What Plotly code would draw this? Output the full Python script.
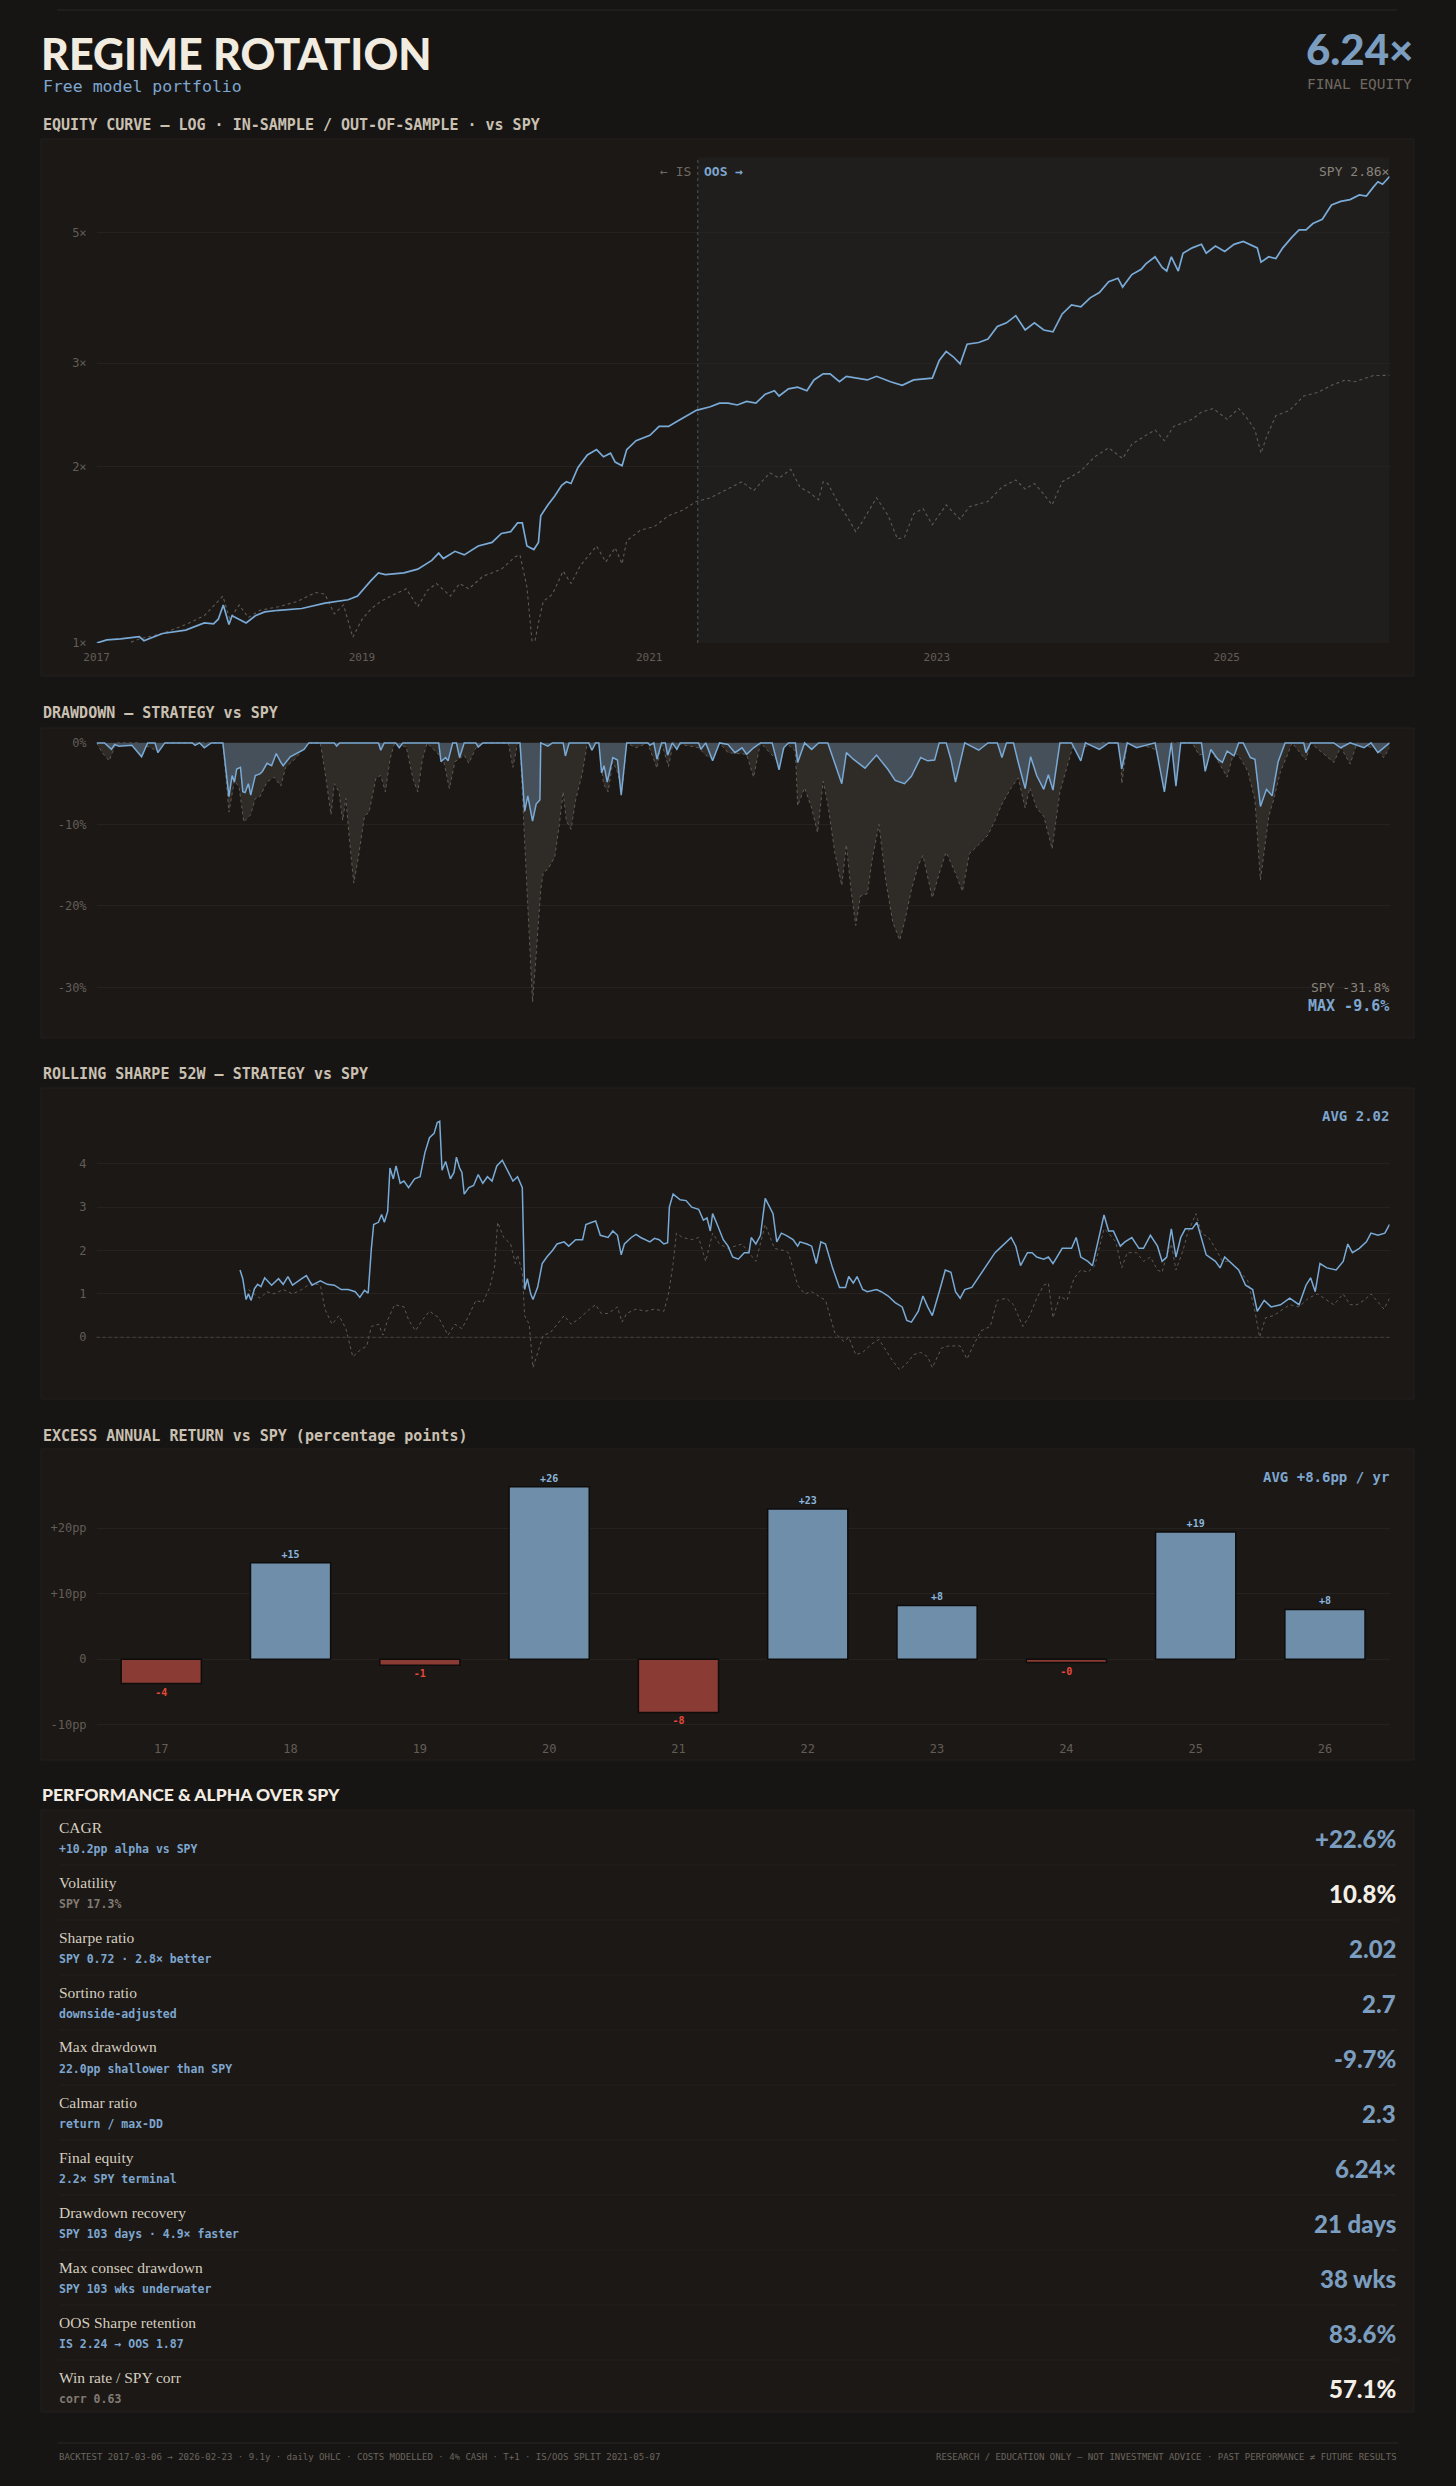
import plotly.graph_objects as go

W, H = 1456, 2486
MONO = "DejaVu Sans Mono"
SANS = "Lato"
SERIF = "Liberation Serif"

BLUE = "#7aaad6"
STEEL = "#7b9dbf"
GREY_DOT = "#605a53"
TICK = "#635d56"

# ---------------- equity curve (growth of 1, log scale), decimal years ----------------
EQ_T = [2017.175, 2017.246, 2017.342, 2017.471, 2017.503, 2017.632, 2017.793, 2017.922, 2017.986, 2018.019,
        2018.054, 2018.093, 2018.115, 2018.164, 2018.212, 2018.276, 2018.341, 2018.437, 2018.598, 2018.759,
        2018.920, 2018.985, 2019.017, 2019.081, 2019.130, 2019.178, 2019.307, 2019.403, 2019.500, 2019.548,
        2019.580, 2019.661, 2019.725, 2019.822, 2019.918, 2019.983, 2020.047, 2020.095, 2020.128, 2020.160,
        2020.208, 2020.240, 2020.256, 2020.305, 2020.353, 2020.401, 2020.434, 2020.466, 2020.514, 2020.579,
        2020.643, 2020.691, 2020.740, 2020.772, 2020.820, 2020.852, 2020.917, 2021.013, 2021.077, 2021.142,
        2021.206, 2021.271, 2021.335, 2021.432, 2021.496, 2021.555, 2021.619, 2021.684, 2021.748, 2021.813,
        2021.877, 2021.909, 2021.974, 2022.038, 2022.102, 2022.151, 2022.215, 2022.263, 2022.328, 2022.376,
        2022.521, 2022.585, 2022.682, 2022.763, 2022.843, 2022.972, 2023.020, 2023.068, 2023.117, 2023.165,
        2023.213, 2023.294, 2023.358, 2023.423, 2023.487, 2023.551, 2023.616, 2023.680, 2023.745, 2023.809,
        2023.873, 2023.938, 2024.002, 2024.067, 2024.131, 2024.195, 2024.260, 2024.292, 2024.356, 2024.421,
        2024.453, 2024.517, 2024.566, 2024.598, 2024.630, 2024.678, 2024.711, 2024.775, 2024.839, 2024.872,
        2024.936, 2025.000, 2025.065, 2025.129, 2025.194, 2025.226, 2025.252, 2025.306, 2025.355, 2025.403,
        2025.467, 2025.516, 2025.564, 2025.612, 2025.677, 2025.741, 2025.805, 2025.870, 2025.934, 2025.983,
        2026.031, 2026.063, 2026.095, 2026.144]
EQ_STRAT = [1.000, 1.012, 1.016, 1.025, 1.009, 1.038, 1.052, 1.082, 1.078, 1.098,
            1.161, 1.075, 1.113, 1.098, 1.082, 1.113, 1.130, 1.137, 1.145, 1.169,
            1.185, 1.202, 1.228, 1.280, 1.317, 1.308, 1.317, 1.336, 1.383, 1.423,
            1.393, 1.433, 1.413, 1.463, 1.484, 1.537, 1.548, 1.602, 1.602, 1.463,
            1.443, 1.484, 1.648, 1.719, 1.780, 1.857, 1.883, 1.870, 1.991, 2.092,
            2.136, 2.077, 2.106, 2.034, 2.005, 2.136, 2.212, 2.259, 2.340, 2.340,
            2.389, 2.440, 2.492, 2.527, 2.563, 2.563, 2.545, 2.581, 2.563, 2.655,
            2.692, 2.636, 2.711, 2.730, 2.692, 2.808, 2.876, 2.876, 2.788, 2.848,
            2.808, 2.848, 2.788, 2.749, 2.808, 2.828, 3.032, 3.141, 3.075, 2.990,
            3.230, 3.252, 3.298, 3.464, 3.513, 3.613, 3.416, 3.513, 3.416, 3.392,
            3.638, 3.768, 3.741, 3.875, 3.957, 4.128, 4.186, 4.042, 4.246, 4.335,
            4.427, 4.553, 4.366, 4.305, 4.553, 4.305, 4.617, 4.715, 4.781, 4.617,
            4.748, 4.650, 4.781, 4.835, 4.748, 4.715, 4.459, 4.553, 4.522, 4.715,
            4.917, 5.058, 5.058, 5.187, 5.275, 5.579, 5.658, 5.698, 5.803, 5.779,
            5.984, 6.111, 6.052, 6.240]

EQ_SPY_T = [2017.175, 2017.246, 2017.342, 2017.471, 2017.632, 2017.793, 2017.922, 2018.051, 2018.099, 2018.164,
            2018.228, 2018.308, 2018.437, 2018.566, 2018.695, 2018.759, 2018.824, 2018.888, 2018.952, 2019.017,
            2019.081, 2019.146, 2019.242, 2019.323, 2019.403, 2019.468, 2019.532, 2019.629, 2019.693, 2019.757,
            2019.854, 2019.983, 2020.079, 2020.112, 2020.160, 2020.202, 2020.240, 2020.273, 2020.337, 2020.411,
            2020.466, 2020.530, 2020.643, 2020.707, 2020.772, 2020.820, 2020.852, 2020.949, 2021.045, 2021.142,
            2021.239, 2021.335, 2021.432, 2021.554, 2021.652, 2021.732, 2021.845, 2021.909, 2021.990, 2022.054,
            2022.119, 2022.183, 2022.215, 2022.247, 2022.328, 2022.392, 2022.441, 2022.489, 2022.585, 2022.666,
            2022.730, 2022.779, 2022.843, 2022.907, 2022.972, 2023.068, 2023.165, 2023.229, 2023.358, 2023.455,
            2023.551, 2023.616, 2023.680, 2023.745, 2023.803, 2023.873, 2024.002, 2024.099, 2024.195, 2024.292,
            2024.356, 2024.453, 2024.517, 2024.582, 2024.646, 2024.775, 2024.839, 2024.920, 2025.017, 2025.097,
            2025.161, 2025.210, 2025.252, 2025.290, 2025.355, 2025.451, 2025.548, 2025.644, 2025.741, 2025.838,
            2025.902, 2026.031, 2026.144]
EQ_SPY = [1.000, 0.984, 0.988, 1.016, 1.038, 1.075, 1.113, 1.202, 1.098, 1.161,
          1.105, 1.137, 1.153, 1.177, 1.219, 1.211, 1.121, 1.161, 1.023, 1.098,
          1.145, 1.177, 1.211, 1.237, 1.153, 1.228, 1.263, 1.202, 1.263, 1.237,
          1.299, 1.336, 1.403, 1.413, 1.245, 0.968, 1.082, 1.177, 1.211, 1.326,
          1.263, 1.354, 1.463, 1.374, 1.453, 1.364, 1.494, 1.558, 1.580, 1.648,
          1.683, 1.743, 1.768, 1.830, 1.883, 1.817, 1.950, 1.910, 1.977, 1.844,
          1.805, 1.755, 1.883, 1.870, 1.719, 1.625, 1.548, 1.613, 1.768, 1.648,
          1.504, 1.515, 1.660, 1.695, 1.591, 1.719, 1.625, 1.707, 1.743, 1.844,
          1.896, 1.830, 1.870, 1.793, 1.719, 1.883, 1.964, 2.077, 2.151, 2.063,
          2.182, 2.259, 2.307, 2.212, 2.340, 2.406, 2.475, 2.510, 2.406, 2.510,
          2.406, 2.307, 2.106, 2.244, 2.440, 2.492, 2.636, 2.673, 2.749, 2.808,
          2.788, 2.856, 2.860]

OOS_SPLIT = 2021.345
YEAR_TICKS = [2017.175, 2019.016, 2021.008, 2023.003, 2025.014]
YEAR_LABELS = ["2017", "2019", "2021", "2023", "2025"]

# ---------------- drawdown (%) ----------------
DD_STRAT_T = [2017.175, 2017.230, 2017.278, 2017.300, 2017.330, 2017.420, 2017.487, 2017.529, 2017.580, 2017.600,
              2017.648, 2017.840, 2017.858, 2017.890, 2017.922, 2017.970, 2018.051, 2018.093, 2018.115, 2018.131,
              2018.147, 2018.173, 2018.189, 2018.205, 2018.228, 2018.244, 2018.276, 2018.308, 2018.325, 2018.357,
              2018.389, 2018.421, 2018.453, 2018.469, 2018.518, 2018.566, 2018.614, 2018.647, 2018.824, 2018.840,
              2018.860, 2019.130, 2019.146, 2019.170, 2019.250, 2019.274, 2019.300, 2019.548, 2019.564, 2019.596,
              2019.613, 2019.645, 2019.671, 2019.693, 2019.725, 2019.806, 2019.822, 2019.854, 2020.112, 2020.144,
              2020.166, 2020.199, 2020.224, 2020.250, 2020.256, 2020.305, 2020.337, 2020.411, 2020.427, 2020.453,
              2020.588, 2020.611, 2020.637, 2020.659, 2020.678, 2020.695, 2020.717, 2020.756, 2020.788, 2020.814,
              2020.852, 2021.000, 2021.013, 2021.040, 2021.062, 2021.094, 2021.120, 2021.136, 2021.168, 2021.200,
              2021.223, 2021.351, 2021.367, 2021.400, 2021.448, 2021.496, 2021.555, 2021.603, 2021.652, 2021.684,
              2021.732, 2021.780, 2021.861, 2021.909, 2021.941, 2021.974, 2022.022, 2022.038, 2022.086, 2022.135,
              2022.183, 2022.247, 2022.312, 2022.344, 2022.376, 2022.424, 2022.505, 2022.585, 2022.666, 2022.714,
              2022.779, 2022.827, 2022.891, 2022.940, 2022.988, 2023.020, 2023.068, 2023.101, 2023.133, 2023.165,
              2023.197, 2023.294, 2023.358, 2023.423, 2023.455, 2023.487, 2023.535, 2023.568, 2023.616, 2023.654,
              2023.696, 2023.745, 2023.777, 2023.809, 2023.857, 2023.938, 2024.002, 2024.034, 2024.131, 2024.195,
              2024.260, 2024.286, 2024.324, 2024.389, 2024.517, 2024.582, 2024.630, 2024.662, 2024.695, 2024.839,
              2024.865, 2024.904, 2024.952, 2024.984, 2025.017, 2025.065, 2025.097, 2025.129, 2025.178, 2025.210,
              2025.248, 2025.290, 2025.329, 2025.371, 2025.419, 2025.548, 2025.564, 2025.596, 2025.757, 2025.805,
              2025.870, 2025.966, 2026.015, 2026.063, 2026.111, 2026.144]
DD_STRAT = [0, 0, -0.8, -0.2, -0.4, -0.3, -1.7, 0, 0, -1.2,
            0, 0, -0.3, 0, -0.6, 0, 0, -6.6, -4.0, -4.8,
            -3.2, -3.0, -6.0, -6.1, -5.0, -6.4, -4.0, -3.8, -3.5, -2.5,
            -2.8, -1.3, -2.4, -2.8, -1.7, -1.2, -0.8, 0, 0, -0.4,
            0, 0, -0.9, 0, 0, -0.6, 0, 0, -2.3, -1.8,
            -2.2, 0, 0, -1.8, 0, 0, -0.5, 0, 0, -8.4,
            -6.5, -9.6, -7.5, -7.0, 0, -0.4, 0, 0, -1.6, 0,
            0, -0.9, 0, 0, -3.7, -2.8, -4.8, -1.8, -2.1, -6.4,
            0, 0, -0.3, 0, -2.0, 0, 0, -1.5, 0, -0.8,
            0, 0, -0.8, 0, -2.2, 0, -0.2, -1.2, -0.6, -1.4,
            -0.6, 0, 0, -3.3, -0.6, 0, 0, -2.4, 0, -0.8,
            0, 0, -3.5, -5.0, -1.2, -2.0, -3.1, -1.5, -3.3, -4.6,
            -5.0, -4.1, -1.8, -2.2, -2.1, 0, 0, -2.0, -4.8, -2.5,
            0, -0.9, 0, 0, -1.8, 0, 0, -2.4, -5.6, -1.7,
            -4.0, -5.7, -3.9, -5.8, 0, 0, -2.2, 0, -0.8, 0,
            0, -3.2, 0, -0.6, 0, -6.0, 0, -5.3, 0, 0,
            -3.5, -0.8, -2.0, -2.4, -1.0, -1.6, 0, 0, -1.8, -2.0,
            -7.8, -5.7, -6.5, -2.3, 0, 0, -1.2, 0, 0, -0.6,
            0, -0.6, 0, -1.2, -0.5, 0]

DD_SPY_T = [2017.175, 2017.214, 2017.262, 2017.310, 2017.471, 2017.600, 2017.648, 2018.051, 2018.093, 2018.131,
            2018.164, 2018.196, 2018.244, 2018.276, 2018.308, 2018.357, 2018.405, 2018.453, 2018.486, 2018.550,
            2018.647, 2018.727, 2018.759, 2018.801, 2018.824, 2018.856, 2018.882, 2018.904, 2018.927, 2018.959,
            2018.991, 2019.033, 2019.065, 2019.113, 2019.146, 2019.178, 2019.210, 2019.242, 2019.323, 2019.371,
            2019.403, 2019.435, 2019.468, 2019.580, 2019.622, 2019.661, 2019.725, 2019.757, 2019.806, 2019.854,
            2020.031, 2020.063, 2020.095, 2020.112, 2020.144, 2020.176, 2020.199, 2020.224, 2020.256, 2020.273,
            2020.305, 2020.353, 2020.385, 2020.411, 2020.434, 2020.466, 2020.498, 2020.546, 2020.579, 2020.659,
            2020.691, 2020.723, 2020.756, 2020.788, 2020.820, 2020.852, 2020.917, 2020.997, 2021.062, 2021.094,
            2021.142, 2021.174, 2021.351, 2021.400, 2021.448, 2021.496, 2021.555, 2021.684, 2021.732, 2021.780,
            2021.909, 2021.958, 2022.022, 2022.038, 2022.086, 2022.135, 2022.176, 2022.215, 2022.247, 2022.296,
            2022.344, 2022.376, 2022.408, 2022.441, 2022.473, 2022.521, 2022.553, 2022.602, 2022.650, 2022.698,
            2022.746, 2022.779, 2022.827, 2022.875, 2022.907, 2022.972, 2023.020, 2023.068, 2023.133, 2023.181,
            2023.229, 2023.294, 2023.358, 2023.407, 2023.455, 2023.519, 2023.568, 2023.616, 2023.648, 2023.696,
            2023.745, 2023.803, 2023.857, 2023.906, 2023.954, 2024.002, 2024.131, 2024.276, 2024.286, 2024.324,
            2024.469, 2024.550, 2024.582, 2024.630, 2024.775, 2024.823, 2024.904, 2024.952, 2025.017, 2025.065,
            2025.113, 2025.161, 2025.210, 2025.248, 2025.274, 2025.306, 2025.339, 2025.387, 2025.435, 2025.467,
            2025.564, 2025.596, 2025.757, 2025.805, 2025.870, 2025.918, 2026.063, 2026.102, 2026.144]
DD_SPY = [0, -1.2, -2.2, 0, 0, -1.0, 0, 0, -8.5, -4.6,
          -5.5, -9.7, -8.8, -6.8, -6.6, -4.8, -4.2, -5.3, -3.0, -2.0,
          0, 0, -3.5, -8.8, -5.0, -6.0, -9.5, -6.8, -11.5, -17.2,
          -14.0, -9.0, -8.5, -4.3, -4.0, -6.0, -2.0, 0, -0.5, -4.5,
          -6.0, -2.0, 0, -2.0, -5.6, -2.3, -1.5, -2.5, -0.6, 0,
          0, -3.0, 0, 0, -12.0, -23.0, -31.8, -26.0, -18.0, -15.9,
          -15.5, -14.0, -10.0, -6.0, -9.6, -10.6, -7.0, -3.6, 0, 0,
          -5.0, -6.0, -2.3, -3.6, -5.8, 0, -0.6, 0, -3.1, 0,
          -2.9, 0, -0.6, -1.5, -2.0, 0, -1.2, -1.4, -4.2, 0,
          -2.4, 0, -1.0, -7.7, -5.5, -8.0, -11.0, -4.7, -7.5, -13.5,
          -17.5, -12.5, -18.0, -22.4, -18.8, -18.5, -14.5, -10.0, -17.0, -22.0,
          -24.2, -22.0, -18.0, -15.0, -13.8, -19.0, -16.0, -13.4, -16.0, -18.2,
          -13.6, -12.5, -11.3, -9.5, -7.5, -5.5, -4.3, -8.0, -5.5, -8.0,
          -9.0, -13.0, -6.0, -3.0, 0, -0.6, 0, 0, -5.0, 0,
          -0.5, -1.0, -2.5, 0, 0, -1.5, -1.0, -2.2, -4.2, -1.0,
          -2.0, -3.5, -7.0, -16.8, -13.4, -9.0, -7.0, -3.5, -1.5, 0,
          -2.1, 0, -2.4, -0.5, -2.6, 0, -0.8, -1.8, -0.6]

# ---------------- rolling 52-week Sharpe ----------------
SH_STRAT_T = [2018.170, 2018.189, 2018.212, 2018.228, 2018.247, 2018.270, 2018.292, 2018.315, 2018.341, 2018.389,
              2018.437, 2018.469, 2018.502, 2018.534, 2018.598, 2018.630, 2018.669, 2018.727, 2018.775, 2018.824,
              2018.872, 2018.920, 2018.969, 2019.001, 2019.033, 2019.059, 2019.081, 2019.097, 2019.130, 2019.152,
              2019.171, 2019.194, 2019.210, 2019.233, 2019.252, 2019.281, 2019.307, 2019.339, 2019.381, 2019.419,
              2019.452, 2019.484, 2019.516, 2019.538, 2019.555, 2019.571, 2019.596, 2019.629, 2019.654, 2019.671,
              2019.693, 2019.709, 2019.725, 2019.757, 2019.790, 2019.822, 2019.854, 2019.886, 2019.918, 2019.951,
              2019.989, 2020.031, 2020.063, 2020.095, 2020.128, 2020.144, 2020.163, 2020.186, 2020.202, 2020.234,
              2020.266, 2020.298, 2020.337, 2020.369, 2020.418, 2020.450, 2020.498, 2020.546, 2020.569, 2020.611,
              2020.637, 2020.669, 2020.723, 2020.756, 2020.788, 2020.814, 2020.836, 2020.884, 2020.917, 2020.949,
              2021.013, 2021.045, 2021.077, 2021.110, 2021.136, 2021.148, 2021.174, 2021.223, 2021.264, 2021.303,
              2021.351, 2021.384, 2021.409, 2021.432, 2021.448, 2021.480, 2021.522, 2021.555, 2021.587, 2021.626,
              2021.668, 2021.700, 2021.716, 2021.748, 2021.780, 2021.813, 2021.845, 2021.867, 2021.893, 2021.925,
              2021.958, 2022.006, 2022.038, 2022.054, 2022.102, 2022.135, 2022.167, 2022.199, 2022.231, 2022.280,
              2022.328, 2022.370, 2022.392, 2022.424, 2022.450, 2022.489, 2022.521, 2022.585, 2022.618, 2022.666,
              2022.714, 2022.763, 2022.795, 2022.827, 2022.875, 2022.907, 2022.940, 2022.972, 2023.020, 2023.062,
              2023.101, 2023.133, 2023.165, 2023.197, 2023.246, 2023.326, 2023.358, 2023.407, 2023.439, 2023.487,
              2023.519, 2023.551, 2023.584, 2023.632, 2023.664, 2023.696, 2023.745, 2023.777, 2023.809, 2023.873,
              2023.938, 2023.970, 2024.002, 2024.051, 2024.083, 2024.131, 2024.163, 2024.195, 2024.228, 2024.276,
              2024.308, 2024.356, 2024.405, 2024.437, 2024.485, 2024.534, 2024.566, 2024.598, 2024.630, 2024.662,
              2024.695, 2024.727, 2024.775, 2024.807, 2024.839, 2024.872, 2024.936, 2024.968, 2025.000, 2025.049,
              2025.097, 2025.145, 2025.194, 2025.226, 2025.274, 2025.322, 2025.387, 2025.451, 2025.516, 2025.564,
              2025.596, 2025.628, 2025.661, 2025.709, 2025.773, 2025.822, 2025.854, 2025.886, 2025.934, 2025.983,
              2026.015, 2026.063, 2026.111, 2026.144]
SH_STRAT = [1.55, 1.35, 0.87, 1.00, 0.85, 1.12, 1.22, 1.17, 1.37, 1.20,
            1.35, 1.22, 1.40, 1.20, 1.35, 1.42, 1.20, 1.30, 1.22, 1.20,
            1.10, 1.10, 1.05, 0.92, 1.08, 1.02, 2.05, 2.60, 2.65, 2.83,
            2.65, 2.90, 3.90, 3.65, 3.95, 3.55, 3.60, 3.45, 3.65, 3.70,
            4.25, 4.60, 4.70, 4.95, 4.98, 3.85, 4.05, 3.65, 3.80, 4.15,
            3.90, 3.80, 3.30, 3.45, 3.50, 3.75, 3.55, 3.70, 3.60, 3.95,
            4.08, 3.80, 3.60, 3.70, 3.45, 1.10, 1.35, 1.00, 0.87, 1.15,
            1.70, 1.85, 2.00, 2.15, 2.20, 2.10, 2.25, 2.25, 2.60, 2.65,
            2.68, 2.35, 2.30, 2.45, 2.35, 1.90, 2.15, 2.30, 2.37, 2.30,
            2.20, 2.28, 2.25, 2.15, 2.18, 3.00, 3.30, 3.17, 3.15, 3.00,
            2.95, 2.70, 2.75, 2.45, 2.85, 2.60, 2.25, 2.10, 1.85, 1.80,
            1.95, 1.95, 2.30, 2.15, 2.35, 3.20, 3.00, 2.85, 2.20, 2.40,
            2.35, 2.25, 2.10, 2.20, 2.15, 2.10, 1.70, 2.20, 2.15, 1.60,
            1.15, 1.15, 1.40, 1.25, 1.40, 1.10, 1.05, 1.10, 1.05, 0.95,
            0.80, 0.70, 0.39, 0.35, 0.60, 0.95, 0.70, 0.50, 1.05, 1.55,
            1.50, 1.05, 0.90, 1.10, 1.15, 1.55, 1.70, 1.95, 2.05, 2.20,
            2.30, 2.10, 1.65, 1.95, 1.95, 1.85, 1.80, 1.85, 1.70, 2.05,
            2.05, 2.30, 1.85, 1.75, 1.65, 2.35, 2.82, 2.45, 2.45, 2.10,
            2.20, 2.30, 2.05, 2.05, 2.35, 2.10, 1.75, 1.85, 2.50, 1.85,
            2.30, 2.50, 2.50, 2.65, 2.25, 1.90, 1.75, 1.60, 1.85, 1.70,
            1.55, 1.20, 1.10, 0.60, 0.85, 0.70, 0.75, 0.90, 0.75, 1.20,
            1.37, 1.05, 1.70, 1.60, 1.55, 1.75, 2.15, 1.95, 2.05, 2.20,
            2.40, 2.35, 2.40, 2.60]

SH_SPY_T = [2018.228, 2018.308, 2018.357, 2018.405, 2018.469, 2018.534, 2018.598, 2018.663, 2018.727, 2018.759,
            2018.808, 2018.856, 2018.904, 2018.952, 2019.001, 2019.049, 2019.081, 2019.130, 2019.162, 2019.194,
            2019.242, 2019.307, 2019.339, 2019.387, 2019.435, 2019.484, 2019.548, 2019.613, 2019.661, 2019.709,
            2019.757, 2019.806, 2019.854, 2019.902, 2019.935, 2019.957, 2019.999, 2020.047, 2020.079, 2020.095,
            2020.128, 2020.144, 2020.176, 2020.202, 2020.240, 2020.273, 2020.321, 2020.369, 2020.418, 2020.466,
            2020.530, 2020.595, 2020.637, 2020.675, 2020.723, 2020.788, 2020.820, 2020.852, 2020.917, 2020.981,
            2021.045, 2021.110, 2021.142, 2021.174, 2021.197, 2021.239, 2021.303, 2021.351, 2021.400, 2021.448,
            2021.496, 2021.554, 2021.652, 2021.748, 2021.813, 2021.877, 2021.941, 2021.974, 2022.038, 2022.086,
            2022.135, 2022.183, 2022.231, 2022.296, 2022.360, 2022.392, 2022.441, 2022.489, 2022.553, 2022.602,
            2022.650, 2022.698, 2022.746, 2022.795, 2022.843, 2022.891, 2022.940, 2022.972, 2023.036, 2023.085,
            2023.165, 2023.213, 2023.262, 2023.310, 2023.374, 2023.423, 2023.487, 2023.535, 2023.600, 2023.648,
            2023.696, 2023.745, 2023.777, 2023.809, 2023.857, 2023.906, 2023.954, 2024.002, 2024.051, 2024.099,
            2024.163, 2024.195, 2024.244, 2024.286, 2024.324, 2024.389, 2024.437, 2024.485, 2024.534, 2024.566,
            2024.598, 2024.630, 2024.662, 2024.711, 2024.743, 2024.775, 2024.801, 2024.839, 2024.888, 2024.936,
            2024.984, 2025.033, 2025.097, 2025.161, 2025.210, 2025.242, 2025.284, 2025.339, 2025.403, 2025.451,
            2025.516, 2025.580, 2025.644, 2025.709, 2025.757, 2025.822, 2025.870, 2025.918, 2025.966, 2026.015,
            2026.063, 2026.105, 2026.144]
SH_SPY = [1.10, 0.90, 1.05, 1.00, 1.10, 1.00, 1.10, 1.25, 1.20, 0.65,
          0.30, 0.50, 0.20, -0.45, -0.30, -0.20, 0.25, 0.30, 0.05, 0.40,
          0.75, 0.70, 0.40, 0.15, 0.40, 0.60, 0.45, 0.05, 0.30, 0.20,
          0.50, 0.85, 0.80, 1.15, 1.60, 2.65, 2.30, 2.15, 1.70, 1.90,
          1.50, 0.50, 0.30, -0.70, -0.30, 0.05, 0.10, 0.30, 0.50, 0.30,
          0.45, 0.65, 0.75, 0.55, 0.55, 0.70, 0.35, 0.55, 0.65, 0.60,
          0.65, 0.60, 1.00, 1.70, 2.40, 2.30, 2.25, 2.30, 1.75, 2.40,
          2.15, 2.05, 2.15, 1.75, 2.60, 2.05, 2.00, 1.95, 1.20, 1.00,
          1.05, 0.95, 0.85, 0.10, -0.10, 0.00, -0.40, -0.35, -0.15, -0.05,
          -0.30, -0.55, -0.75, -0.60, -0.40, -0.35, -0.45, -0.70, -0.25, -0.20,
          -0.20, -0.50, -0.15, 0.15, 0.25, 0.85, 0.90, 0.75, 0.25, 0.50,
          0.90, 1.20, 1.25, 0.45, 0.95, 0.85, 1.35, 1.55, 1.50, 1.65,
          2.50, 2.40, 2.20, 1.60, 1.95, 1.95, 1.75, 1.85, 1.55, 1.50,
          1.90, 2.15, 1.55, 2.00, 2.40, 2.65, 2.85, 2.40, 2.30, 2.05,
          1.75, 1.75, 1.55, 1.30, 0.60, 0.00, 0.45, 0.50, 0.65, 0.75,
          0.70, 0.90, 1.00, 0.85, 0.75, 1.00, 0.75, 0.75, 0.85, 1.00,
          0.80, 0.65, 0.90]

# ---------------- excess annual return vs SPY (pp) ----------------
YEARS = ["17", "18", "19", "20", "21", "22", "23", "24", "25", "26"]
EXCESS = [-3.7, 14.7, -0.9, 26.3, -8.1, 22.9, 8.2, -0.5, 19.4, 7.6]

# ---------------- performance table ----------------
METRIC_LABELS = ["CAGR", "Volatility", "Sharpe ratio", "Sortino ratio", "Max drawdown", "Calmar ratio",
                 "Final equity", "Drawdown recovery", "Max consec drawdown", "OOS Sharpe retention",
                 "Win rate / SPY corr"]
METRIC_NOTES = ["+10.2pp alpha vs SPY", "SPY 17.3%", "SPY 0.72 · 2.8× better", "downside-adjusted",
                "22.0pp shallower than SPY", "return / max-DD", "2.2× SPY terminal",
                "SPY 103 days · 4.9× faster", "SPY 103 wks underwater", "IS 2.24 → OOS 1.87", "corr 0.63"]
METRIC_VALUES = ["+22.6%", "10.8%", "2.02", "2.7", "-9.7%", "2.3", "6.24×", "21 days", "38 wks",
                 "83.6%", "57.1%"]
NOTE_MUTED = [False, True, False, False, False, False, False, False, False, False, True]
VALUE_PLAIN = [False, True, False, False, False, False, False, False, False, False, True]


def fx(x):
    return x / W


def fy(y):
    return 1 - y / H


def note(x, y, text, size, color, family=MONO, anchor="left", weight="normal"):
    return dict(x=fx(x), y=fy(y), xref="paper", yref="paper", text=text, showarrow=False,
                xanchor=anchor, yanchor="middle",
                font=dict(family=family, size=size, color=color, weight=weight))


def panel(x0, y0, x1, y1, fill="#1b1816", line="#221f1c"):
    return dict(type="rect", xref="paper", yref="paper", x0=fx(x0), x1=fx(x1), y0=fy(y1), y1=fy(y0),
                fillcolor=fill, line=dict(color=line, width=1), layer="below")


def hline(x0, x1, y, color="#242120"):
    return dict(type="line", xref="paper", yref="paper", x0=fx(x0), x1=fx(x1), y0=fy(y), y1=fy(y),
                line=dict(color=color, width=1), layer="below")


fig = go.Figure()

# equity
fig.add_trace(go.Scatter(x=EQ_SPY_T, y=EQ_SPY, mode="lines", xaxis="x", yaxis="y",
                         line=dict(color=GREY_DOT, width=1.1, dash="dot")))
fig.add_trace(go.Scatter(x=EQ_T, y=EQ_STRAT, mode="lines", xaxis="x", yaxis="y",
                         line=dict(color=BLUE, width=1.7)))

# drawdown
fig.add_trace(go.Scatter(x=DD_SPY_T, y=DD_SPY, mode="lines", xaxis="x2", yaxis="y2",
                         fill="tozeroy", fillcolor="#2f2b27",
                         line=dict(color=GREY_DOT, width=1, dash="dot")))
fig.add_trace(go.Scatter(x=DD_STRAT_T, y=DD_STRAT, mode="lines", xaxis="x2", yaxis="y2",
                         fill="tozeroy", fillcolor="#46505a",
                         line=dict(color=BLUE, width=1.5)))

# rolling sharpe
fig.add_trace(go.Scatter(x=SH_SPY_T, y=SH_SPY, mode="lines", xaxis="x3", yaxis="y3",
                         line=dict(color=GREY_DOT, width=1, dash="dot")))
fig.add_trace(go.Scatter(x=SH_STRAT_T, y=SH_STRAT, mode="lines", xaxis="x3", yaxis="y3",
                         line=dict(color=BLUE, width=1.5)))

# excess return bars
bar_colors = ["#6e8ea9" if v >= 0 else "#8a3b33" for v in EXCESS]
text_colors = ["#8ab6de" if v >= 0 else "#e8483a" for v in EXCESS]
fig.add_trace(go.Bar(x=YEARS, y=EXCESS, xaxis="x4", yaxis="y4", width=0.62,
                     marker=dict(color=bar_colors, line=dict(color="#0f0d0c", width=1.5)),
                     text=[f"{v:+.0f}" for v in EXCESS], textposition="outside",
                     textfont=dict(family=MONO, size=10, color=text_colors, weight="bold"),
                     cliponaxis=False))

XDOM = [fx(96.6), fx(1389.6)]
tickfont = dict(family=MONO, size=12, color=TICK)
common_x = dict(domain=XDOM, range=[2017.175, 2026.144], showgrid=False, zeroline=False,
                showline=False, fixedrange=True, automargin=False)
common_y = dict(showgrid=True, gridcolor="#25221f", gridwidth=1, zeroline=False, showline=False,
                tickfont=tickfont, ticks="", ticklabelstandoff=9, automargin=False)

fig.update_layout(
    width=W, height=H, margin=dict(l=0, r=0, t=0, b=0, pad=0, autoexpand=False), autosize=False,
    paper_bgcolor="#171514", plot_bgcolor="rgba(0,0,0,0)", showlegend=False, hovermode=False,
    xaxis=dict(common_x, anchor="y", tickvals=YEAR_TICKS, ticktext=YEAR_LABELS, ticks="",
               tickfont=dict(family=MONO, size=11, color=TICK), ticklabelstandoff=6),
    yaxis=dict(common_y, anchor="x", domain=[fy(643), fy(157.5)], type="log", range=[0, 0.8275],
               tickvals=[1, 2, 3, 5], ticktext=["1×", "2×", "3×", "5×"]),
    xaxis2=dict(common_x, anchor="y2", showticklabels=False),
    yaxis2=dict(common_y, anchor="x2", domain=[fy(1020), fy(738)], range=[-34, 0.6],
                tickvals=[0, -10, -20, -30], ticktext=["0%", "-10%", "-20%", "-30%"]),
    xaxis3=dict(common_x, anchor="y3", showticklabels=False),
    yaxis3=dict(common_y, anchor="x3", domain=[fy(1385), fy(1103)], range=[-1.1, 5.4],
                tickvals=[0, 1, 2, 3, 4]),
    xaxis4=dict(domain=XDOM, anchor="y4", range=[-0.5, 9.5], type="category", showgrid=False,
                zeroline=False, showline=False, ticks="", tickfont=tickfont, ticklabelstandoff=5,
                automargin=False),
    yaxis4=dict(common_y, anchor="x4", domain=[fy(1734.7), fy(1455.9)], range=[-11.5, 31],
                tickvals=[-10, 0, 10, 20], ticktext=["-10pp", "0", "+10pp", "+20pp"]),
)

shapes = [
    hline(57, 1397, 10, "#2a2624"),
    panel(41, 139, 1414, 676),
    panel(41, 728, 1414, 1038),
    panel(41, 1088, 1414, 1399),
    panel(41, 1449, 1414, 1760),
    panel(41, 1810, 1414, 2412),
    hline(58, 1398, 2443, "#2a2624"),
    # out-of-sample shading and split marker
    dict(type="rect", xref="x", yref="y domain", x0=OOS_SPLIT, x1=2026.144, y0=0, y1=1,
         fillcolor="#1f1e1d", line=dict(width=0), layer="below"),
    dict(type="line", xref="x", yref="y domain", x0=OOS_SPLIT, x1=OOS_SPLIT, y0=0, y1=1,
         line=dict(color="#4b5561", width=1, dash="3px,3px")),
    # sharpe zero line
    dict(type="line", xref="x3 domain", yref="y3", x0=0, x1=1, y0=0, y1=0,
         line=dict(color="#4a4540", width=1, dash="dot")),
]
for i in range(len(METRIC_LABELS) - 1):
    shapes.append(hline(59, 1396, 1810 + 55 * (i + 1), "#221f1d"))

ann = [
    note(39, 53, "REGIME ROTATION", 43, "#f1ebe0", SANS, weight=900),
    note(41, 87, "Free model portfolio", 16.5, "#7ea6cf"),
    note(1415, 49, "6.24×", 42, STEEL, SANS, "right", weight=900),
    note(1414, 84, "FINAL EQUITY", 14.5, "#6f6961", anchor="right"),
    note(41, 125, "EQUITY CURVE — LOG · IN-SAMPLE / OUT-OF-SAMPLE · vs SPY", 15, "#c9c0b2", weight="bold"),
    note(693, 171, "← IS", 13, "#6f6961", anchor="right"),
    note(702, 171, "OOS →", 13, "#7ea6cf", weight="bold"),
    note(1391, 171, "SPY 2.86×", 13, "#8a837a", anchor="right"),
    note(41, 713, "DRAWDOWN — STRATEGY vs SPY", 15, "#c9c0b2", weight="bold"),
    note(1391, 988, "SPY -31.8%", 13, "#8a837a", anchor="right"),
    note(1391, 1006, "MAX -9.6%", 15, "#7ea6cf", anchor="right", weight="bold"),
    note(41, 1074, "ROLLING SHARPE 52W — STRATEGY vs SPY", 15, "#c9c0b2", weight="bold"),
    note(1391, 1116, "AVG 2.02", 14, "#7ea6cf", anchor="right", weight="bold"),
    note(41, 1436, "EXCESS ANNUAL RETURN vs SPY (percentage points)", 15, "#c9c0b2", weight="bold"),
    note(1391, 1477, "AVG +8.6pp / yr", 14, "#7ea6cf", anchor="right", weight="bold"),
    note(40, 1794, "PERFORMANCE &amp; ALPHA OVER SPY", 17.5, "#f2ece2", SANS, weight=900),
    note(57, 2457, "BACKTEST 2017-03-06 → 2026-02-23 · 9.1y · daily OHLC · COSTS MODELLED · 4% CASH · "
                   "T+1 · IS/OOS SPLIT 2021-05-07", 9, "#6b655e"),
    note(1399, 2457, "RESEARCH / EDUCATION ONLY — NOT INVESTMENT ADVICE · PAST PERFORMANCE ≠ FUTURE RESULTS",
         9, "#6b655e", anchor="right"),
]
for i, lab in enumerate(METRIC_LABELS):
    top = 1810 + 55 * i
    ann.append(note(57, top + 17, lab, 15.5, "#d6cdbf", SERIF))
    ann.append(note(57, top + 39, METRIC_NOTES[i], 11.5,
                    "#817a72" if NOTE_MUTED[i] else "#7ea6cf", weight="bold"))
    ann.append(note(1398, top + 28, METRIC_VALUES[i], 24,
                    "#f3eee6" if VALUE_PLAIN[i] else STEEL, SANS, "right", weight=900))

fig.update_layout(shapes=shapes, annotations=ann)

fig.write_html("out.html", config={"displayModeBar": False, "staticPlot": True},
               post_script="document.body.style.margin='0';document.body.style.background='#171514';")
